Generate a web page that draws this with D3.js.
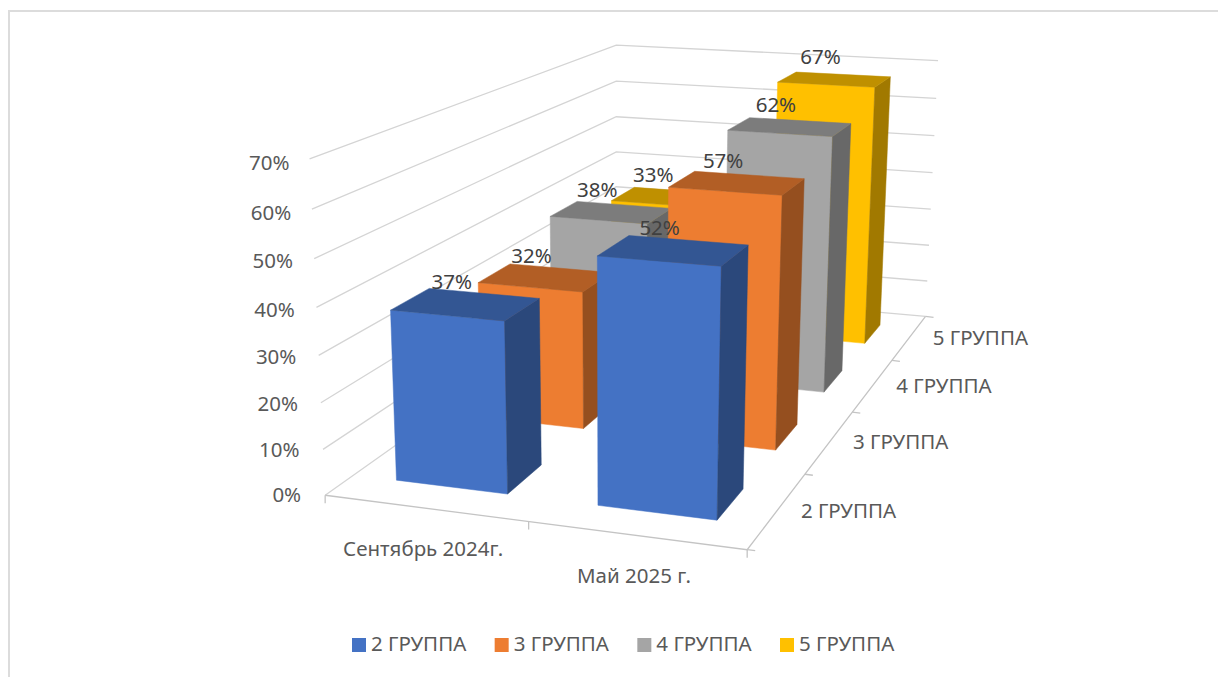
<!DOCTYPE html>
<html lang="ru">
  <head>
    <meta charset="utf-8">
    <title>Группы</title>
    <style>
      body { margin: 0; background: #fff; }
      text { font-family: "Noto Sans", sans-serif; }
    </style>
  </head>
  <body>
    <svg id="chart" width="1218" height="677"></svg>
    <script src="https://cdn.jsdelivr.net/npm/d3@7"></script>
    <script>
      // chart data
      let periods = ["Сентябрь 2024г.", "Май 2025 г."]
      let groups = ["2 ГРУППА", "3 ГРУППА", "4 ГРУППА", "5 ГРУППА"]
      let group2 = [37, 52]
      let group3 = [32, 57]
      let group4 = [38, 62]
      let group5 = [33, 67]
      let seriesValues = [group2, group3, group4, group5]
      let colors = ["#4472c4", "#ed7d31", "#a5a5a5", "#ffc000"]
      let yTicks = [0, 10, 20, 30, 40, 50, 60, 70]

      // scales go to a unit box: x left-right, y up, z into the picture
      let xScale = d3.scaleBand().domain(periods).range([0, 1]).paddingInner(0.44).paddingOuter(0.22)
      let xSlots = d3.scaleBand().domain(periods).range([0, 1])
      let zScale = d3.scaleBand().domain(groups).range([0, 1]).paddingInner(0.58).paddingOuter(0.29)
      let zSlots = d3.scaleBand().domain(groups).range([0, 1])
      let yScale = d3.scaleLinear().domain([0, 70]).range([0, 1])

      // box corners as seen on the picture, used to fit the camera
      let calibration = [
        [[0, 0, 0], [324, 493]],
        [[1, 0, 0], [748, 551]],
        [[1, 0, 1], [925, 315]],
        [[0, 0, 1], [617, 291]],
        [[0, 1, 0], [310, 160]],
        [[0, 1, 1], [616, 44]],
        [[1, 1, 1], [938, 61]]
      ]

      function solve(A, b) {
        let n = b.length
        let m = A.map((row, i) => row.concat(b[i]))
        for (let i = 0; i < n; i++) {
          let best = i
          for (let r = i + 1; r < n; r++) if (Math.abs(m[r][i]) > Math.abs(m[best][i])) best = r
          let t = m[i]; m[i] = m[best]; m[best] = t
          for (let r = 0; r < n; r++) {
            if (r == i) continue
            let f = m[r][i] / m[i][i]
            for (let c = i; c <= n; c++) m[r][c] -= f * m[i][c]
          }
        }
        return m.map((row, i) => row[n] / row[i])
      }

      // least squares fit of a perspective camera
      function fitCamera(points) {
        let rows = [], rhs = []
        points.forEach(([[X, Y, Z], [u, v]]) => {
          rows.push([X, Y, Z, 1, 0, 0, 0, 0, -u * X, -u * Y, -u * Z]); rhs.push(u)
          rows.push([0, 0, 0, 0, X, Y, Z, 1, -v * X, -v * Y, -v * Z]); rhs.push(v)
        })
        let n = 11
        let AtA = d3.range(n).map(i => d3.range(n).map(j => d3.sum(rows, r => r[i] * r[j])))
        let Atb = d3.range(n).map(i => d3.sum(rows, (r, k) => r[i] * rhs[k]))
        return solve(AtA, Atb)
      }

      let cam = fitCamera(calibration)
      function project(X, Y, Z) {
        let w = cam[8] * X + cam[9] * Y + cam[10] * Z + 1
        return [
          (cam[0] * X + cam[1] * Y + cam[2] * Z + cam[3]) / w,
          (cam[4] * X + cam[5] * Y + cam[6] * Z + cam[7]) / w
        ]
      }

      let svg = d3.select("#chart")
      let path = d3.line()
      let fontSize = 20.5

      // chart frame
      svg.append("path").attr("d", "M9,677V11H1218").attr("fill", "none").attr("stroke", "#dcdcdc").attr("stroke-width", 2)

      let gridColor = "#d4d4d4"
      let grid = svg.append("g").attr("fill", "none").attr("stroke", gridColor).attr("stroke-width", 1.3)

      // wall gridlines
      grid.selectAll(".wall").data(yTicks).enter().append("path")
        .attr("d", d => path([project(0, yScale(d), 0), project(0, yScale(d), 1), project(1, yScale(d), 1)]))

      // floor edges
      grid.append("path").attr("d", path([project(0, 0, 0), project(1, 0, 0), project(1, 0, 1)])).attr("stroke", "#c4c4c4")

      // x ticks
      let xEdges = [0, 0.5, 1]
      grid.selectAll(".xt").data(xEdges).enter().append("path").attr("stroke", "#c4c4c4")
        .attr("d", d => { let p = project(d, 0, 0); return path([p, [p[0], p[1] + 8]]) })

      // z ticks
      let zEdges = [0, 0.25, 0.5, 0.75, 1]
      grid.selectAll(".zt").data(zEdges).enter().append("path").attr("stroke", "#c4c4c4")
        .attr("d", d => { let p = project(1, 0, d); return path([p, [p[0] + 8, p[1] + 1]]) })

      // y tick labels, the offset shifts a little going up the wall
      svg.selectAll(".ylab").data(yTicks).enter().append("text")
        .attr("text-anchor", "end").attr("fill", "#595959").attr("font-size", fontSize)
        .attr("x", d => project(0, yScale(d), 0)[0] - 24 + yScale(d) * 4)
        .attr("y", d => project(0, yScale(d), 0)[1] + 7 + yScale(d) * 4)
        .text(d => d + "%")

      // category labels under the front edge
      svg.selectAll(".xlab").data(periods).enter().append("text")
        .attr("text-anchor", "middle").attr("fill", "#595959").attr("font-size", fontSize)
        .attr("x", d => project(xSlots(d) + xSlots.bandwidth() / 2, 0, 0)[0] - 2)
        .attr("y", d => project(xSlots(d) + xSlots.bandwidth() / 2, 0, 0)[1] + 48)
        .text(d => d)

      // depth labels along the right edge
      svg.selectAll(".zlab").data(groups).enter().append("text")
        .attr("text-anchor", "middle").attr("fill", "#595959").attr("font-size", fontSize)
        .attr("x", d => project(1, 0, zSlots(d) + zSlots.bandwidth() / 2)[0] + 71)
        .attr("y", d => project(1, 0, zSlots(d) + zSlots.bandwidth() / 2)[1] + 7.5)
        .text(d => d)

      // one row per bar, back row first and left to right so nearer bars paint over
      let bars = []
      groups.forEach((g, gi) => {
        periods.forEach((p, pi) => {
          bars.push({ group: g, period: p, value: seriesValues[gi][pi], color: colors[gi] })
        })
      })
      bars.sort((a, b) => d3.descending(zScale(a.group), zScale(b.group)))

      function shade(color, k) {
        let c = d3.rgb(color)
        return d3.rgb(c.r * k, c.g * k, c.b * k).formatHex()
      }

      let barGroups = svg.selectAll(".bar").data(bars).enter().append("g").attr("class", "bar")

      barGroups.each(function (d) {
        let x0 = xScale(d.period), x1 = x0 + xScale.bandwidth()
        let z0 = zScale(d.group), z1 = z0 + zScale.bandwidth()
        let h = yScale(d.value)
        let faces = [
          { pts: [[x0, 0, z0], [x1, 0, z0], [x1, h, z0], [x0, h, z0]], fill: d.color },
          { pts: [[x1, 0, z0], [x1, 0, z1], [x1, h, z1], [x1, h, z0]], fill: shade(d.color, 0.63) },
          { pts: [[x0, h, z0], [x1, h, z0], [x1, h, z1], [x0, h, z1]], fill: shade(d.color, 0.75) }
        ]
        d3.select(this).selectAll("path").data(faces).enter().append("path")
          .attr("d", f => path(f.pts.map(q => project(q[0], q[1], q[2]))) + "Z")
          .attr("fill", f => f.fill)
          .attr("stroke", f => f.fill).attr("stroke-width", 0.5)
      })

      // data labels sit on top of everything
      svg.selectAll(".val").data(bars).enter().append("text")
        .attr("text-anchor", "middle").attr("fill", "#404040").attr("font-size", fontSize)
        .attr("x", d => project(xScale(d.period) + xScale.bandwidth() / 2, yScale(d.value), zScale(d.group) + zScale.bandwidth() / 2)[0] - 14)
        .attr("y", d => project(xScale(d.period) + xScale.bandwidth() / 2, yScale(d.value), zScale(d.group) + zScale.bandwidth() / 2)[1] - 15)
        .text(d => d.value + "%")

      // legend
      let legendX = d3.scalePoint().domain(groups).range([352, 780])
      let legend = svg.selectAll(".leg").data(groups).enter().append("g")
        .attr("transform", d => `translate(${legendX(d)},638)`)
      legend.append("rect").attr("width", 14).attr("height", 14).attr("fill", (d, i) => colors[i])
      legend.append("text").attr("x", 19).attr("y", 13).attr("fill", "#595959").attr("font-size", fontSize).text(d => d)
    </script>
  </body>
</html>
